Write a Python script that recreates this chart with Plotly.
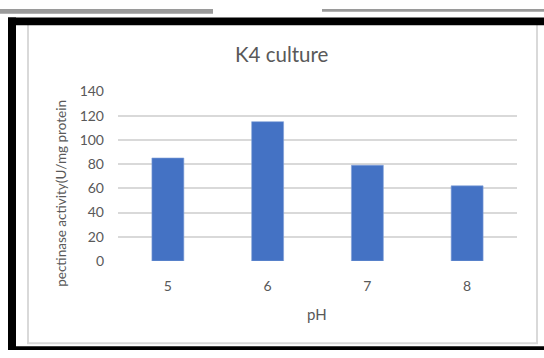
import plotly.graph_objects as go

# Data
ph_levels = ["5", "6", "7", "8"]
activity = [85, 115, 79, 62]
y_ticks = [0, 20, 40, 60, 80, 100, 120, 140]

W, H = 544, 358
FONT = "Lato, 'Open Sans', sans-serif"
TEXT = "#595959"


def px(x):
    return x / W


def py(y):
    return 1 - y / H


fig = go.Figure(
    go.Bar(
        x=ph_levels,
        y=activity,
        marker=dict(color="#4472C4", line=dict(color="#7f9fd8", width=0.6)),
        hoverinfo="x+y",
    )
)

shapes = []
# light frame around the chart area
shapes.append(dict(type="rect", xref="paper", yref="paper",
                   x0=px(28), x1=px(537), y0=py(351), y1=py(14),
                   line=dict(color="#d9d9d9", width=2), fillcolor="rgba(0,0,0,0)", layer="below"))
# grey strips along the top edge
shapes.append(dict(type="rect", xref="paper", yref="paper",
                   x0=px(0), x1=px(213), y0=py(5), y1=py(0),
                   line=dict(width=0), fillcolor="#9a9a9a"))
shapes.append(dict(type="rect", xref="paper", yref="paper",
                   x0=px(322), x1=px(544), y0=py(3), y1=py(0),
                   line=dict(width=0), fillcolor="#9a9a9a"))
# thick black border
for x0, x1, y0, y1 in [(8, 544, 9, 17), (8, 16, 9, 358), (8, 544, 354, 358)]:
    shapes.append(dict(type="rect", xref="paper", yref="paper",
                       x0=px(x0), x1=px(x1), y0=py(y1), y1=py(y0),
                       line=dict(width=0), fillcolor="#000000"))

annotations = [
    dict(text="K4 culture", xref="paper", yref="paper", x=px(282), y=py(47),
         xanchor="center", yanchor="middle", showarrow=False,
         font=dict(family=FONT, size=20.5, color=TEXT)),
    dict(text="pH", xref="paper", yref="paper", x=px(317), y=py(320),
         xanchor="center", yanchor="middle", showarrow=False,
         font=dict(family=FONT, size=15, color=TEXT)),
    dict(text="pectinase activity(U/mg protein", xref="paper", yref="paper",
         x=px(61), y=py(194), xanchor="center", yanchor="middle", textangle=-90,
         showarrow=False, font=dict(family=FONT, size=13.5, color=TEXT)),
]

fig.update_layout(
    width=W, height=H,
    margin=dict(l=0, r=0, t=0, b=0),
    paper_bgcolor="white", plot_bgcolor="white",
    bargap=0.68,
    showlegend=False,
    shapes=shapes,
    annotations=annotations,
    xaxis=dict(domain=[px(118), px(517)], showgrid=False, zeroline=False,
               showline=False, ticks="", ticklabelstandoff=15,
               tickfont=dict(family=FONT, size=14, color=TEXT)),
    yaxis=dict(domain=[py(264.5), py(86.5)], range=[0, 140], tickvals=y_ticks,
               showgrid=True, gridcolor="#d9d9d9", gridwidth=1.5,
               zeroline=False, showline=False, ticks="", ticklabelstandoff=13,
               tickfont=dict(family=FONT, size=14, color=TEXT)),
)

fig.write_html("out.html")
